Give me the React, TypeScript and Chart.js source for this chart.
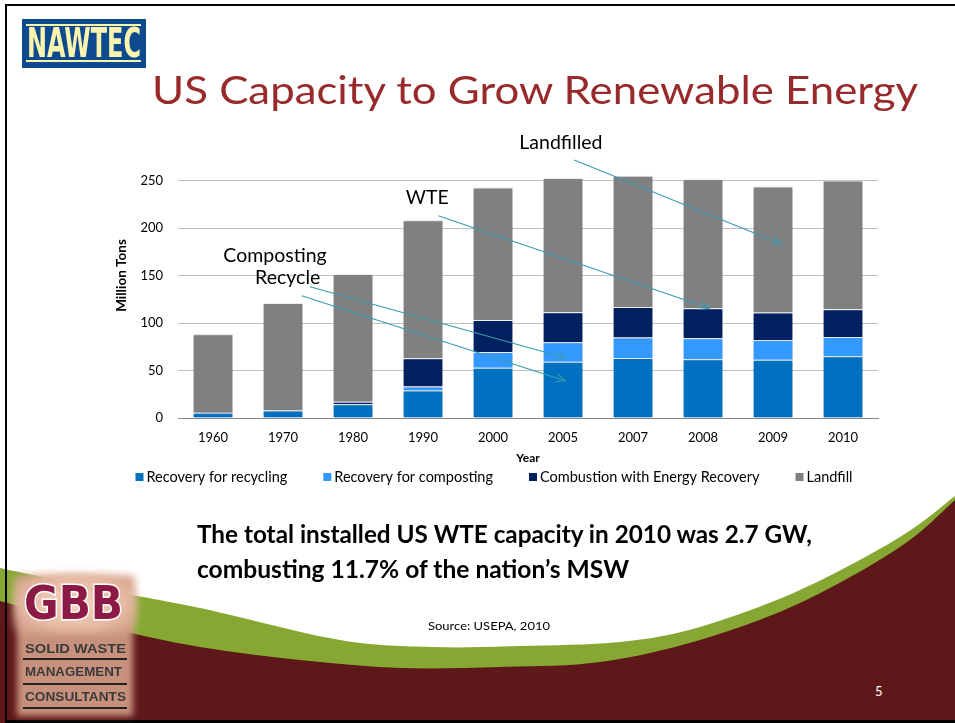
import React, { useEffect, useLayoutEffect, useRef } from "react";
import { Chart, registerables } from "chart.js";
Chart.register(...registerables);

// ---------------- data (million tons, USEPA 2010) ----------------
const years = ["1960", "1970", "1980", "1990", "2000", "2005", "2007", "2008", "2009", "2010"];
const recycling = [5.6, 8.0, 14.5, 29.0, 53.0, 59.2, 63.1, 61.8, 61.3, 65.0];
const composting = [0, 0, 0, 4.2, 16.5, 20.6, 21.7, 22.1, 20.8, 20.2];
const combustion = [0, 0.4, 2.7, 29.7, 33.7, 31.6, 32.0, 31.6, 29.0, 29.3];
const landfill = [82.5, 112.7, 134.4, 145.3, 139.4, 141.3, 138.2, 135.9, 132.5, 135.5];
const seriesNames = ["Recovery for recycling", "Recovery for composting", "Combustion with Energy Recovery", "Landfill"];
const seriesColors = ["#0070C0", "#3399FF", "#002060", "#808080"];
const yTickMax = 250;

// annotations in data space: [category index, value]
const annotations = [
  { text: "Landfilled", at: [4.97, 289.5], from: [5.16, 271.6], to: [8.12, 183.2] },
  { text: "WTE", at: [3.06, 231.5], from: [3.22, 213], to: [7.09, 115.5] },
  { text: "Composting", at: [0.886, 171], from: null, to: null },
  { text: "Recycle", at: [1.067, 147.4], from: [1.386, 138.2], to: [5.03, 63.5] },
  { text: "", at: null, from: [1.267, 128.7], to: [5.03, 39.3] },
];

// decorative wave edges
const greenEdge = [[0, 568], [100, 589], [200, 608], [340, 640], [433, 647], [520, 646], [620, 642], [700, 627], [800, 590], [900, 537], [955, 496]];
const maroonEdge = [[0, 601], [100, 626], [200, 647], [300, 660], [400, 668], [500, 667], [600, 662], [700, 640], [800, 603], [900, 547], [955, 500]];

const FONT = "Lato, 'Open Sans', sans-serif";

function smoothPath(pts: number[][]) {
  let d = `M${pts[0][0]},${pts[0][1]}`;
  for (let i = 0; i < pts.length - 1; i++) {
    const p0 = pts[i - 1] || pts[i];
    const p1 = pts[i];
    const p2 = pts[i + 1];
    const p3 = pts[i + 2] || p2;
    const c1 = [p1[0] + (p2[0] - p0[0]) / 6, p1[1] + (p2[1] - p0[1]) / 6];
    const c2 = [p2[0] - (p3[0] - p1[0]) / 6, p2[1] - (p3[1] - p1[1]) / 6];
    d += ` C${c1[0]},${c1[1]} ${c2[0]},${c2[1]} ${p2[0]},${p2[1]}`;
  }
  return d;
}

function FitText(props: { text: string; left: number; top: number; width: number; style?: any }) {
  const ref = useRef<HTMLSpanElement>(null);
  useLayoutEffect(() => {
    const el = ref.current;
    if (!el) return;
    el.style.transform = "none";
    const w = el.getBoundingClientRect().width;
    if (w > 0) el.style.transform = `scaleX(${props.width / w})`;
  }, [props.text, props.width]);
  return (
    <span
      ref={ref}
      style={{
        position: "absolute",
        left: props.left,
        top: props.top,
        whiteSpace: "nowrap",
        transformOrigin: "0 0",
        lineHeight: 1,
        ...(props.style || {}),
      }}
    >
      {props.text}
    </span>
  );
}

const annotationPlugin = {
  id: "arrows",
  afterDatasetsDraw(chart: any) {
    const { ctx, scales } = chart;
    const px = (p: number[]) => [scales.x.getPixelForValue(p[0]), scales.y.getPixelForValue(p[1])];
    ctx.save();
    ctx.strokeStyle = "#3A9AB0";
    ctx.lineWidth = 1.1;
    annotations.forEach((a) => {
      if (a.from && a.to) {
        const [x1, y1] = px(a.from);
        const [x2, y2] = px(a.to);
        ctx.beginPath();
        ctx.moveTo(x1, y1);
        ctx.lineTo(x2, y2);
        ctx.stroke();
        const ang = Math.atan2(y2 - y1, x2 - x1);
        const L = 10;
        ctx.beginPath();
        ctx.moveTo(x2 - L * Math.cos(ang - 0.42), y2 - L * Math.sin(ang - 0.42));
        ctx.lineTo(x2, y2);
        ctx.lineTo(x2 - L * Math.cos(ang + 0.42), y2 - L * Math.sin(ang + 0.42));
        ctx.stroke();
      }
    });
    ctx.fillStyle = "#000";
    ctx.font = `19.5px ${FONT}`;
    ctx.textAlign = "center";
    ctx.textBaseline = "middle";
    annotations.forEach((a) => {
      if (a.text && a.at) {
        const [x, y] = px(a.at);
        ctx.fillText(a.text, x, y);
      }
    });
    ctx.restore();
  },
};

const legendPlugin = {
  id: "customLegend",
  afterDraw(chart: any) {
    const { ctx, scales, chartArea } = chart;
    ctx.save();
    ctx.font = `14.5px ${FONT}`;
    ctx.textBaseline = "middle";
    ctx.textAlign = "left";
    const box = 8;
    const gap = 3;
    const spacing = 36;
    const items = chart.data.datasets.map((ds: any) => ({
      text: ds.label,
      color: ds.backgroundColor,
      w: box + gap + ctx.measureText(ds.label).width,
    }));
    const total = items.reduce((s: number, it: any) => s + it.w, 0) + spacing * (items.length - 1);
    const cx = (scales.y.left + chartArea.right) / 2;
    let x = cx - total / 2;
    const y = scales.x.bottom + 11;
    items.forEach((it: any) => {
      ctx.fillStyle = it.color;
      ctx.fillRect(x, y - box / 2, box, box);
      ctx.fillStyle = "#000";
      ctx.fillText(it.text, x + box + gap, y);
      x += it.w + spacing;
    });
    ctx.restore();
  },
};

const shadowPlugin = {
  id: "barShadow",
  beforeDatasetsDraw(chart: any) {
    const ctx = chart.ctx;
    ctx.save();
    ctx.shadowColor = "rgba(0,0,0,0.28)";
    ctx.shadowBlur = 3;
    ctx.shadowOffsetX = 1;
    ctx.shadowOffsetY = 0;
  },
  afterDatasetsDraw(chart: any) {
    chart.ctx.restore();
  },
};

function BarChart() {
  const ref = useRef<HTMLCanvasElement>(null);
  useEffect(() => {
    if (!ref.current) return;
    const data = [recycling, composting, combustion, landfill];
    const chart = new Chart(ref.current, {
      type: "bar",
      data: {
        labels: years,
        datasets: data.map((d, i) => ({
          label: seriesNames[i],
          data: d,
          backgroundColor: seriesColors[i],
          borderColor: "#FFFFFF",
          borderWidth: { top: 1, left: 0, right: 0, bottom: 0 },
          borderSkipped: false,
          categoryPercentage: 1,
          barPercentage: 0.56,
        })),
      },
      options: {
        responsive: false,
        animation: false,
        devicePixelRatio: 1,
        layout: { padding: { left: 110, top: 133, right: 77, bottom: 257 } },
        plugins: { legend: { display: false }, tooltip: { enabled: false } },
        scales: {
          x: {
            stacked: true,
            grid: { display: false },
            border: { display: true, color: "#868686", width: 1 },
            ticks: { color: "#000", font: { family: FONT, size: 13 }, padding: 4 },
            title: {
              display: true,
              text: "Year",
              color: "#000",
              font: { family: FONT, size: 12, weight: "bold" },
              padding: { top: 0, bottom: 1 },
            },
            afterFit: (s: any) => {
              s.height = 48;
            },
          },
          y: {
            stacked: true,
            min: 0,
            max: 300,
            ticks: { stepSize: 50, padding: 15, color: "#000", font: { family: FONT, size: 13 } },
            afterBuildTicks: (s: any) => {
              s.ticks = s.ticks.filter((t: any) => t.value <= yTickMax);
            },
            grid: { color: "#BFBFBF", drawTicks: false, lineWidth: 1 },
            border: { display: false },
            title: {
              display: true,
              text: "Million Tons",
              color: "#000",
              font: { family: FONT, size: 13.5, weight: "bold" },
              padding: { top: 4, bottom: 0 },
            },
            afterFit: (s: any) => {
              s.width = 68;
            },
          },
        },
      } as any,
      plugins: [shadowPlugin, annotationPlugin, legendPlugin],
    });
    return () => chart.destroy();
  }, []);
  return (
    <canvas
      ref={ref}
      width={955}
      height={723}
      style={{ position: "absolute", left: 0, top: 0, width: 955, height: 723 }}
    />
  );
}

export default function App() {
  const greenD = smoothPath(greenEdge) + " L955,723 L0,723 Z";
  const maroonD = smoothPath(maroonEdge) + " L955,723 L0,723 Z";
  return (
    <div
      style={{
        position: "absolute",
        left: 0,
        top: 0,
        width: 955,
        height: 723,
        overflow: "hidden",
        background: "#fff",
        fontFamily: FONT,
      }}
    >
      <svg width={955} height={723} style={{ position: "absolute", left: 0, top: 0 }}>
        <path d={greenD} fill="#86A832" />
        <path d={maroonD} fill="#5F181A" />
      </svg>

      {/* slide frame */}
      <div
        style={{
          position: "absolute",
          left: 5,
          top: 4,
          width: 960,
          height: 714,
          borderTop: "2px solid #000",
          borderLeft: "2px solid #000",
          borderBottom: "3px solid #000",
        }}
      />

      {/* NAWTEC logo */}
      <div style={{ position: "absolute", left: 22, top: 19, width: 124, height: 49, background: "#0D4A8E" }} />
      <div style={{ position: "absolute", left: 26, top: 24, width: 115, height: 2, background: "#F9F4AE" }} />
      <div style={{ position: "absolute", left: 26, top: 60, width: 115, height: 2, background: "#F9F4AE" }} />
      <FitText
        text="NAWTEC"
        left={27}
        top={23}
        width={114}
        style={{ fontFamily: "'Liberation Sans Narrow', 'DejaVu Sans Condensed', sans-serif", fontWeight: 700, fontSize: 40, color: "#F9F4AE" }}
      />

      {/* Title */}
      <FitText
        text="US Capacity to Grow Renewable Energy"
        left={152}
        top={70}
        width={766}
        style={{ fontFamily: FONT, fontSize: 38, color: "#982A2B" }}
      />

      {/* statement */}
      <FitText
        text="The total installed US WTE capacity in 2010 was 2.7 GW,"
        left={197}
        top={522}
        width={615}
        style={{ fontFamily: FONT, fontWeight: 700, fontSize: 24, color: "#000" }}
      />
      <FitText
        text="combusting 11.7% of the nation’s MSW"
        left={197}
        top={557}
        width={432}
        style={{ fontFamily: FONT, fontWeight: 700, fontSize: 24, color: "#000" }}
      />
      <FitText
        text="Source: USEPA, 2010"
        left={428}
        top={620}
        width={122}
        style={{ fontFamily: FONT, fontSize: 12, color: "#000" }}
      />

      {/* GBB logo */}
      <div style={{ position: "absolute", left: 17, top: 577, width: 116, height: 139, background: "#C8917D", filter: "blur(3px)" }} />
      <div
        style={{
          position: "absolute",
          left: 12,
          top: 572,
          width: 126,
          height: 62,
          background: "radial-gradient(ellipse at center, #F4D6C2 0%, #E6BBA4 55%, rgba(200,145,125,0) 100%)",
          filter: "blur(3px)",
        }}
      />
      <FitText
        text="GBB"
        left={24}
        top={580}
        width={99}
        style={{
          fontFamily: "'DejaVu Sans', sans-serif",
          fontWeight: 700,
          fontSize: 46,
          color: "#8B1A44",
          WebkitTextStroke: "3px #fff",
          paintOrder: "stroke fill",
        }}
      />
      {[
        { t: "SOLID WASTE", top: 642, w: 101 },
        { t: "MANAGEMENT", top: 665, w: 97 },
        { t: "CONSULTANTS", top: 690, w: 101 },
      ].map((r) => (
        <FitText
          key={r.t}
          text={r.t}
          left={25}
          top={r.top}
          width={r.w}
          style={{ fontFamily: "'Liberation Sans', Arial, sans-serif", fontWeight: 700, fontSize: 13, color: "#3A3A3A" }}
        />
      ))}
      {[658, 683, 707].map((y) => (
        <div key={y} style={{ position: "absolute", left: 23, top: y, width: 104, height: 1.5, background: "#222" }} />
      ))}

      {/* page number */}
      <span style={{ position: "absolute", left: 875, top: 685, fontSize: 13, lineHeight: 1, color: "#fff", fontFamily: FONT }}>5</span>

      <BarChart />
    </div>
  );
}
